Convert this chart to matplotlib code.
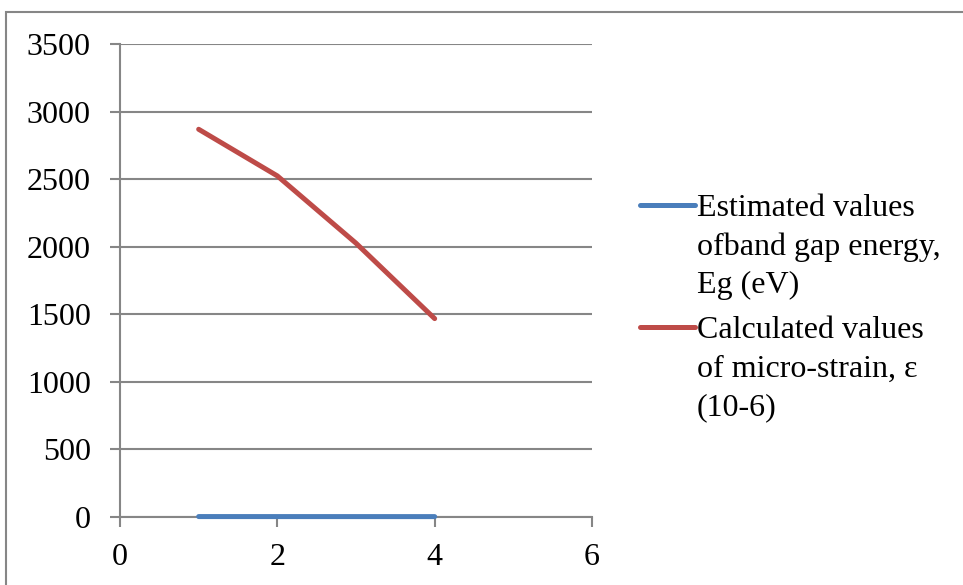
import numpy as np
import matplotlib.pyplot as plt
from matplotlib.lines import Line2D
from matplotlib.patches import Rectangle

plt.rcParams['font.family'] = ['Liberation Serif', 'DejaVu Serif']

# sample number vs. measured quantities
samples = [1, 2, 3, 4]
band_gap = [3.2, 3.1, 3.0, 2.9]
micro_strain = [2869, 2524, 2026, 1468]

labels = ["Estimated values\nofband gap energy,\nEg (eV)",
          "Calculated values\nof micro-strain, \u03b5\n(10-6)"]
colors = ["#4A7EBB", "#BE4B48"]

W, H = 963, 585
fs = 23
fig = plt.figure(figsize=(W / 100, H / 100), dpi=100)
ax = fig.add_axes([120 / W, 1 - 517 / H, (592 - 120) / W, (517 - 44) / H])

grid_c = "#868686"
ax.plot(samples, band_gap, color=colors[0], lw=3.6, solid_capstyle='round', zorder=3, clip_on=False)
ax.plot(samples, micro_strain, color=colors[1], lw=3.6, solid_capstyle='round', zorder=3, clip_on=False)

ax.set_xlim(0, 6)
ax.set_ylim(0, 3500)
ax.set_xticks(np.arange(0, 7, 2))
ax.set_yticks(np.arange(0, 3501, 500))
ax.yaxis.grid(True, color=grid_c, lw=1.5)
ax.set_axisbelow(True)
for s in ['top', 'right']:
    ax.spines[s].set_visible(False)
for s in ['left', 'bottom']:
    ax.spines[s].set_color(grid_c)
    ax.spines[s].set_linewidth(1.5)
ax.tick_params(axis='both', color=grid_c, width=1.5, length=7, labelsize=fs, direction='out')
ax.tick_params(axis='x', pad=12)
ax.tick_params(axis='y', pad=14)

# legend drawn by hand so the key sits on the first text line
leg_y = [205, 327]
for c, lab, y in zip(colors, labels, leg_y):
    fig.add_artist(Line2D([640 / W, 695 / W], [1 - y / H, 1 - y / H], color=c, lw=3.6,
                          solid_capstyle='round', transform=fig.transFigure))
    for i, line in enumerate(lab.split("\n")):
        base = y + 11 + i * 38.5
        fig.text(697 / W, 1 - base / H, line, fontsize=fs, va='baseline', ha='left')

# chart area border
fig.add_artist(Rectangle((6 / W, -0.01), 1.0, 1 - 12 / H + 0.01, transform=fig.transFigure,
                         fill=False, edgecolor=grid_c, lw=1.5))

fig.savefig("out.png", dpi=100)
